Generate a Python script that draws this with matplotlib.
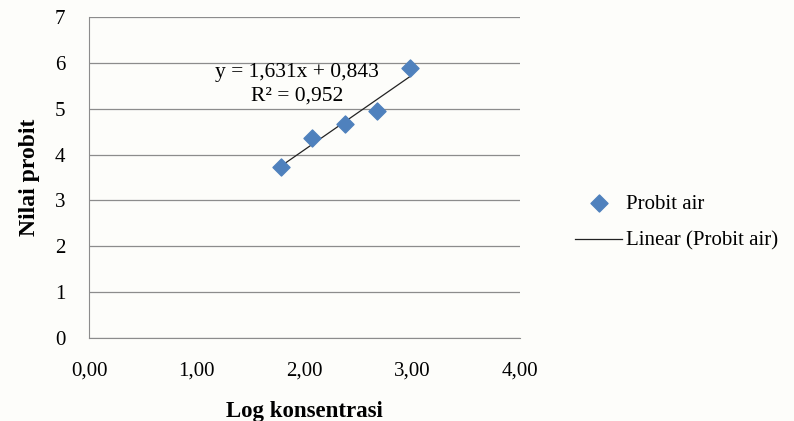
import matplotlib
matplotlib.use('Agg')
import matplotlib.pyplot as plt
import numpy as np

# probit values against log concentration
log_konsentrasi = [1.78, 2.07, 2.38, 2.67, 2.98]
probit_air = [3.72, 4.37, 4.66, 4.96, 5.88]
slope, intercept = 1.631, 0.843
r2 = 0.952


def koma(v, nd=3):
    # decimal comma, as in the Indonesian labels
    return f'{v:.{nd}f}'.replace('.', ',')


plt.rcParams['font.family'] = ['Liberation Serif', 'DejaVu Serif']

fig = plt.figure(figsize=(7.94, 4.21), dpi=100, facecolor='#fdfdfa')
ax = fig.add_axes([89 / 794, 1 - 338 / 421, 431 / 794, 321 / 421])
ax.set_facecolor('none')

ax.scatter(log_konsentrasi, probit_air, marker='D', s=75, color='#4f81bd',
           edgecolors='#4f81bd', zorder=3, label='Probit air')
xs = np.array([min(log_konsentrasi), max(log_konsentrasi)])
ax.plot(xs, slope * xs + intercept, color='#222222', lw=0.9, zorder=2,
        label='Linear (Probit air)')

ax.text(1.93, 5.78, f'y = {koma(slope)}x + {koma(intercept)}',
        ha='center', va='center', fontsize=15.5)
ax.text(1.93, 5.28, f'R² = {koma(r2)}', ha='center', va='center', fontsize=15.5)

ax.set_xlim(0, 4)
ax.set_ylim(0, 7)
ax.set_xticks(np.arange(0, 5))
ax.set_xticklabels([koma(v, 2) for v in range(5)], fontsize=15)
ax.set_yticks(np.arange(0, 8))
ax.set_yticklabels([str(v) for v in range(8)], fontsize=15)
ax.tick_params(length=0)
ax.tick_params(axis='y', pad=17)
ax.tick_params(axis='x', pad=17)
ax.grid(axis='y', color='#8c8c8c', lw=0.9)
ax.set_axisbelow(True)
for side in ('top', 'right'):
    ax.spines[side].set_visible(False)
ax.spines['left'].set_color('#8c8c8c')
ax.spines['bottom'].set_color('#8c8c8c')

ax.set_xlabel('Log konsentrasi', fontsize=16.5, fontweight='bold', labelpad=15)
ax.set_ylabel('Nilai probit', fontsize=17, fontweight='bold', labelpad=11)

ax.legend(loc='center left', bbox_to_anchor=(1.128, 0.36), frameon=False,
          fontsize=15, handlelength=2.25, handletextpad=0.2, labelspacing=0.85,
          borderpad=0, borderaxespad=0)

fig.savefig('out.png', dpi=100, facecolor=fig.get_facecolor())
